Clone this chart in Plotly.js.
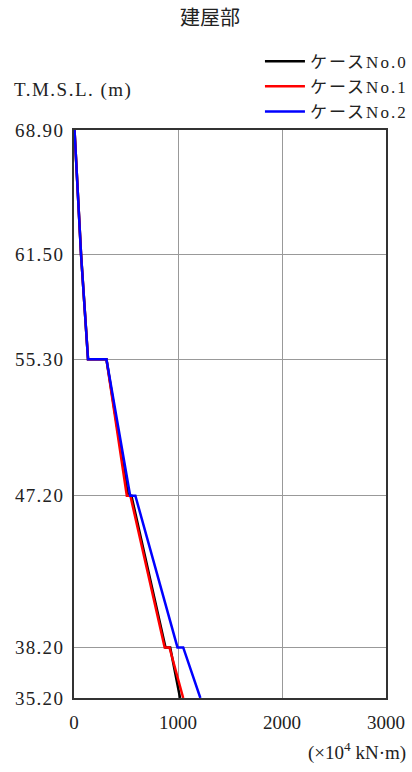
<!DOCTYPE html>
<html>
<head>
<meta charset="utf-8">
<script src="https://cdn.plot.ly/plotly-3.0.1.min.js"></script>
<style>html,body{margin:0;padding:0;background:#fff;}#chart{width:412px;height:772px;}</style>
</head>
<body>
<div id="chart"></div>
<script>
// Elevations (T.M.S.L., m) — repeated values mark the steps at floor levels
const levels = [68.9, 61.5, 55.3, 55.3, 47.2, 47.2, 38.2, 38.2, 35.2];
// Bending moment (×10^4 kN·m)
const case0 = [5, 68, 135, 312, 520, 552, 880, 925, 1020];
const case1 = [5, 68, 135, 312, 508, 542, 872, 918, 1050];
const case2 = [5, 68, 135, 312, 540, 590, 995, 1050, 1215];
const seriesNames = ['ケースNo.0', 'ケースNo.1', 'ケースNo.2'];
const yTickVals = [68.9, 61.5, 55.3, 47.2, 38.2, 35.2];
const yTickText = ['68.90', '61.50', '55.30', '47.20', '38.20', '35.20'];
const xTickVals = [0, 1000, 2000, 3000];

const FONT = '"Liberation Serif", "Noto Sans CJK JP", serif';
const TXT = '#222';
const colors = ['#000000', '#ff0000', '#0000ff'];
const spaced = (t, ls) => '<span style="letter-spacing:' + ls + 'px">' + t + '</span>';
const data = [case0, case1, case2].map((vals, i) => ({
  x: vals, y: levels, type: 'scatter', mode: 'lines',
  name: spaced(seriesNames[i], 2), line: {color: colors[i], width: 2.5}
}));

const layout = {
  width: 412, height: 772,
  margin: {l: 74, r: 26, t: 130, b: 74, autoexpand: false},
  paper_bgcolor: '#fff', plot_bgcolor: '#fff',
  font: {family: FONT, size: 17, color: TXT},
  title: {text: '建屋部', x: 0.51, xref: 'container', xanchor: 'center', y: 0.977, yref: 'container', yanchor: 'middle', font: {family: FONT, size: 20, color: TXT}},
  showlegend: true,
  legend: {x: 0.596, xanchor: 'left', y: 1.152, yanchor: 'top', bgcolor: 'rgba(0,0,0,0)', font: {family: FONT, size: 17, color: TXT}, tracegroupgap: 0, itemwidth: 40},
  xaxis: {
    range: [0, 3000], tickvals: xTickVals, ticks: '', showgrid: true, gridcolor: '#999', gridwidth: 1,
    showline: true, linecolor: '#333', linewidth: 2, mirror: true, zeroline: false,
    tickfont: {family: FONT, size: 19, color: TXT}, ticklabelstandoff: 6, fixedrange: true
  },
  yaxis: {
    range: [35.2, 68.9], tickvals: yTickVals, ticktext: yTickText.map(t => spaced(t, 1.3)), ticks: '', showgrid: true, gridcolor: '#999', gridwidth: 1,
    showline: true, linecolor: '#333', linewidth: 2, mirror: true, zeroline: false,
    tickfont: {family: FONT, size: 19, color: TXT}, ticklabelstandoff: 4, fixedrange: true
  },
  annotations: [
    {text: spaced('T.M.S.L. (m)', 1.5), xref: 'paper', yref: 'paper', x: -0.2, y: 1.07, xanchor: 'left', yanchor: 'middle', showarrow: false, font: {family: FONT, size: 19, color: TXT}},
    {text: '(×10<sup>4</sup> kN·m)', xref: 'paper', yref: 'paper', x: 1.07, y: -0.094, xanchor: 'right', yanchor: 'middle', showarrow: false, font: {family: FONT, size: 19, color: TXT}}
  ]
};
Plotly.newPlot('chart', data, layout, {displayModeBar: false, staticPlot: true});
</script>
</body>
</html>
